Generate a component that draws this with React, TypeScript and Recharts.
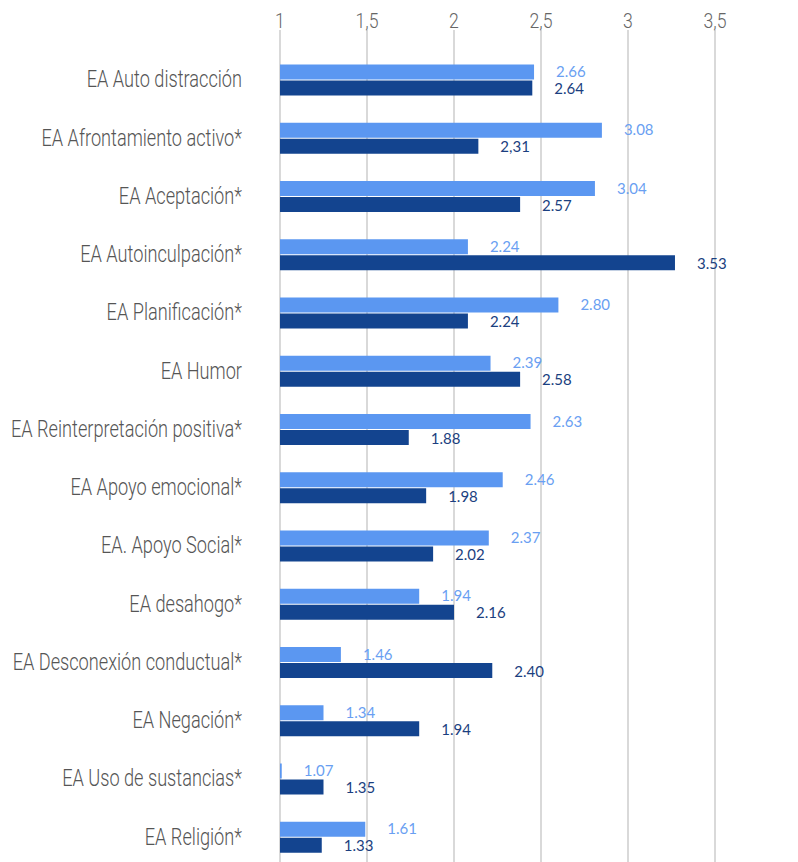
import { Bar, BarChart, CartesianGrid, LabelList, XAxis, YAxis } from "recharts"

const categories = [
  "EA Auto distracción",
  "EA Afrontamiento activo*",
  "EA Aceptación*",
  "EA Autoinculpación*",
  "EA Planificación*",
  "EA Humor",
  "EA Reinterpretación positiva*",
  "EA Apoyo emocional*",
  "EA. Apoyo Social*",
  "EA desahogo*",
  "EA Desconexión conductual*",
  "EA Negación*",
  "EA Uso de sustancias*",
  "EA Religión*",
]

// bar lengths as drawn in the picture
const lightValues = [2.46, 2.85, 2.81, 2.08, 2.6, 2.21, 2.44, 2.28, 2.2, 1.8, 1.35, 1.25, 1.01, 1.49]
const darkValues = [2.45, 2.14, 2.38, 3.27, 2.08, 2.38, 1.74, 1.84, 1.88, 2.0, 2.22, 1.8, 1.25, 1.24]

// printed value labels
const lightLabels = ["2.66", "3.08", "3.04", "2.24", "2.80", "2.39", "2.63", "2.46", "2.37", "1.94", "1.46", "1.34", "1.07", "1.61"]
const darkLabels = ["2.64", "2,31", "2.57", "3.53", "2.24", "2.58", "1.88", "1.98", "2.02", "2.16", "2.40", "1.94", "1.35", "1.33"]

const xTicks = [1, 1.5, 2, 2.5, 3, 3.5, 4]
const xTickLabels = ["1", "1,5", "2", "2,5", "3", "3,5", "4"]

const LIGHT = "#5B97F1"
const DARK = "#13448F"
const THIN = "Roboto, 'Liberation Sans', sans-serif"

const data = categories.map((name, i) => ({
  name,
  light: lightValues[i],
  dark: darkValues[i],
  lightLabel: lightLabels[i],
  darkLabel: darkLabels[i],
}))

const XTick = (props: any) => {
  const { x, y, payload } = props
  const i = xTicks.indexOf(payload.value)
  return (
    <text
      transform={`translate(${x},${y - 2}) scale(0.84,1)`}
      textAnchor="middle"
      fontSize={21}
      fontWeight={300}
      fill="#666"
      fontFamily={THIN}
    >
      {i >= 0 ? xTickLabels[i] : payload.value}
    </text>
  )
}

const YTick = (props: any) => {
  const { x, y, payload } = props
  return (
    <text
      transform={`translate(${x},${y}) scale(0.79,1)`}
      textAnchor="end"
      dominantBaseline="central"
      fontSize={23}
      fontWeight={300}
      fill="#555"
      fontFamily={THIN}
    >
      {payload.value}
    </text>
  )
}

const makeLabel = (color: string, dy: number) => (props: any) => {
  const { x, y, width, height, value } = props
  return (
    <text
      x={Number(x) + Number(width) + 22}
      y={Number(y) + Number(height) / 2 + dy}
      dominantBaseline="central"
      fontSize={15}
      fill={color}
      fontFamily="Lato, 'Liberation Sans', sans-serif"
    >
      {value}
    </text>
  )
}

export default function App() {
  return (
    <div style={{ width: 800, height: 858 }}>
      <BarChart
        layout="vertical"
        width={800}
        height={858}
        data={data}
        margin={{ top: 0, right: 6, bottom: 0, left: 0 }}
        barSize={15}
        barGap={1}
      >
        <CartesianGrid horizontal={false} stroke="#d9d9d9" strokeWidth={2} />
        <XAxis
          type="number"
          orientation="top"
          domain={[1, 4]}
          ticks={xTicks}
          height={22}
          axisLine={false}
          tickLine={false}
          tickSize={0}
          tickMargin={0}
          tick={<XTick />}
          allowDataOverflow
        />
        <YAxis
          type="category"
          dataKey="name"
          width={272}
          axisLine={false}
          tickLine={false}
          tickSize={0}
          tickMargin={38}
          padding={{ top: 20.5, bottom: 0 }}
          interval={0}
          tick={<YTick />}
        />
        <Bar dataKey="light" fill={LIGHT} isAnimationActive={false}>
          <LabelList dataKey="lightLabel" content={makeLabel("#6A9FF2", -1)} />
        </Bar>
        <Bar dataKey="dark" fill={DARK} isAnimationActive={false}>
          <LabelList dataKey="darkLabel" content={makeLabel("#1B3F80", 0)} />
        </Bar>
      </BarChart>
    </div>
  )
}
